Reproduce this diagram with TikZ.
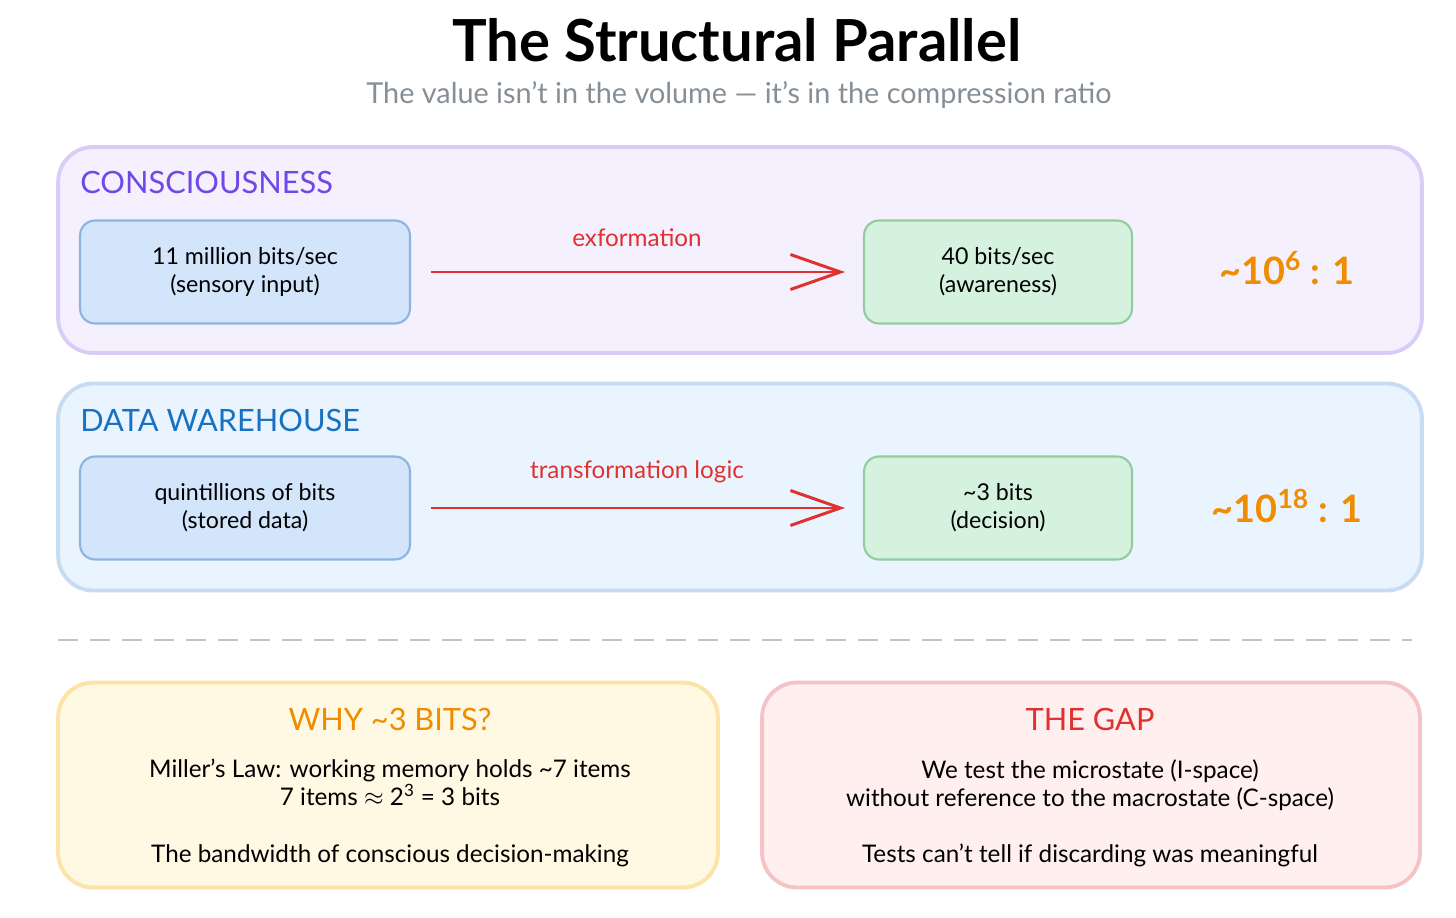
\documentclass[tikz,border=0pt]{standalone}
\usepackage{fontspec}
\setmainfont{Lato}
\usetikzlibrary{arrows.meta,positioning,calc}
\definecolor{lavfill}{HTML}{F4F0FE}
\definecolor{lavline}{HTML}{D9CDF8}
\definecolor{violet}{HTML}{7048E8}
\definecolor{skyfill}{HTML}{EAF4FE}
\definecolor{skyline}{HTML}{C7DCF2}
\definecolor{navy}{HTML}{1971C2}
\definecolor{bluefill}{HTML}{D3E5FA}
\definecolor{blueline}{HTML}{8FB3DF}
\definecolor{greenfill}{HTML}{D5F2DF}
\definecolor{greenline}{HTML}{94CC9F}
\definecolor{redink}{HTML}{E03131}
\definecolor{orangeink}{HTML}{F08C00}
\definecolor{yelfill}{HTML}{FFF8E3}
\definecolor{yelline}{HTML}{FCE3A8}
\definecolor{pinkfill}{HTML}{FFEFEF}
\definecolor{pinkline}{HTML}{F5C3C3}
\definecolor{grayink}{HTML}{868E96}
\definecolor{dashgray}{HTML}{BDC3C9}
\tikzset{
  panel/.style={draw,line width=2.2pt,rounded corners=0.7cm,inner sep=0pt},
  boxx/.style={draw,line width=1.2pt,rounded corners=0.3cm,align=center,
    font=\fontsize{13.2}{16}\selectfont,inner sep=0pt},
  head/.style={anchor=west,inner sep=0pt,font=\fontsize{17.5}{20}\selectfont},
  flow/.style={draw=redink,line width=1.7pt,
    -{Straight Barb[length=10mm,width=7mm]},shorten <=0.4cm,shorten >=0.36cm},
  flowlab/.style={midway,above=10pt,text=redink,font=\fontsize{13.8}{16}\selectfont},
  ratio/.style={text=orangeink,font=\fontsize{21.5}{25}\selectfont\bfseries},
  body/.style={align=center,font=\fontsize{13.8}{16}\selectfont},
}

\begin{document}
\begin{tikzpicture}[x=0.02cm,y=-0.02cm]
  \useasboundingbox[fill=white] (0,0) rectangle (1456,918);
  \node[font=\fontsize{33}{38}\selectfont\bfseries] (title) at (737,40) {The Structural Parallel};
  \node[text=grayink,font=\fontsize{16.4}{19}\selectfont] (sub) at (739,95)
    {The value isn't in the volume — it's in the compression ratio};

  % consciousness
  \node[panel,draw=lavline,fill=lavfill,minimum width=27.28cm,minimum height=4.12cm] (consc) at (740,250) {};
  \node[head,text=violet] (conscT) at (80,182) {CONSCIOUSNESS};
  \node[boxx,draw=blueline,fill=bluefill,minimum width=6.6cm,minimum height=2.06cm] (sens) at (245,272)
    {11 million bits/sec\\(sensory input)};
  \node[boxx,draw=greenline,fill=greenfill,minimum width=5.36cm,minimum height=2.06cm] (aware) at (998,272)
    {40 bits/sec\\(awareness)};
  \draw[flow] (sens) -- node[flowlab] {exformation} (aware);
  \node[ratio] (r1) at (1287,268) {\textasciitilde10\textsuperscript{6} : 1};

  % data warehouse
  \node[panel,draw=skyline,fill=skyfill,minimum width=27.28cm,minimum height=4.14cm] (dw) at (740,487) {};
  \node[head,text=navy] (dwT) at (80,420) {DATA WAREHOUSE};
  \node[boxx,draw=blueline,fill=bluefill,minimum width=6.6cm,minimum height=2.06cm] (stored) at (245,508)
    {quintillions of bits\\(stored data)};
  \node[boxx,draw=greenline,fill=greenfill,minimum width=5.36cm,minimum height=2.06cm] (decis) at (998,508)
    {\textasciitilde3 bits\\(decision)};
  \draw[flow] (stored) -- node[flowlab] {transformation logic} (decis);
  \node[ratio] (r2) at (1287,506) {\textasciitilde10\textsuperscript{18} : 1};

  \coordinate (dl) at (58,640); \coordinate (dr) at (1412,640);
  \draw[dashgray,line width=1.5pt,dash pattern=on 0.4cm off 0.24cm] (dl) -- (dr);

  % bottom notes
  \node[panel,draw=yelline,fill=yelfill,minimum width=13.2cm,minimum height=4.1cm] (why) at (388,785) {};
  \node[head,anchor=center,text=orangeink] (whyT) at (390,719) {WHY \textasciitilde3 BITS?};
  \node[body,anchor=north] (whyB) at (390,753)
    {Miller's Law: working memory holds \textasciitilde7 items\\7 items $\approx$ 2\textsuperscript{3} = 3 bits\\[16pt]
     The bandwidth of conscious decision-making};
  \node[panel,draw=pinkline,fill=pinkfill,minimum width=13.16cm,minimum height=4.1cm] (gap) at (1091,785) {};
  \node[head,anchor=center,text=redink] (gapT) at (1090,719) {THE GAP};
  \node[body,anchor=north] (gapB) at (1090,753)
    {We test the microstate (I-space)\\without reference to the macrostate (C-space)\\[16pt]
     Tests can't tell if discarding was meaningful};
\end{tikzpicture}
\end{document}
